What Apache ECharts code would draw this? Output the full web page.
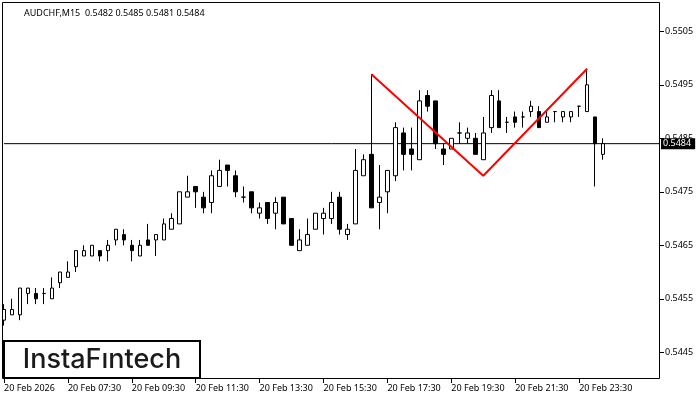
<!DOCTYPE html>
<html><head><meta charset="utf-8">
<script src="https://cdn.jsdelivr.net/npm/echarts@6/dist/echarts.min.js"></script>
<style>html,body{margin:0;padding:0;background:#fff}#c{width:700px;height:400px}</style>
</head><body><div id="c"></div>
<script>
const chartTitle = 'AUDCHF,M15  0.5482 0.5485 0.5481 0.5484';
const logoText = 'InstaF\u0131ntech';
const tickLabels = ['20 Feb 2026','20 Feb 07:30','20 Feb 09:30','20 Feb 11:30','20 Feb 13:30','20 Feb 15:30','20 Feb 17:30','20 Feb 19:30','20 Feb 21:30','20 Feb 23:30'];
const priceTicks = [0.5445,0.5455,0.5465,0.5475,0.5485,0.5495,0.5505];
const currentPrice = 0.5484;

const opens  = [0.5451,0.5452,0.5452,0.5456,0.5456,0.5456,0.5455,0.5458,0.5459,0.5461,0.5463,0.5463,0.5464,0.5464,0.5466,0.5467,0.5465,0.5463,0.5466,0.5466,0.5466,0.5468,0.5469,0.5474,0.5476,0.5474,0.5473,0.5476,0.5480,0.5478,0.5474,0.5475,0.5471,0.5473,0.5471,0.5474,0.5470,0.5464,0.5465,0.5468,0.5470,0.5470,0.5474,0.5467,0.5469,0.5478,0.5482,0.5473,0.5475,0.5478,0.5486,0.5483,0.5481,0.5493,0.5492,0.5483,0.5483,0.5486,0.5485,0.5485,0.5481,0.5487,0.5492,0.5488,0.5489,0.5489,0.5490,0.5490,0.5488,0.5490,0.5489,0.5489,0.5491,0.5490,0.5489,0.5482];
const closes = [0.5453,0.5453,0.5457,0.5457,0.5455,0.5456,0.5457,0.5460,0.5460,0.5464,0.5464,0.5465,0.5463,0.5465,0.5468,0.5466,0.5464,0.5465,0.5465,0.5467,0.5469,0.5470,0.5475,0.5475,0.5475,0.5472,0.5478,0.5479,0.5479,0.5475,0.5474,0.5472,0.5472,0.5470,0.5473,0.5469,0.5465,0.5466,0.5467,0.5471,0.5471,0.5473,0.5468,0.5468,0.5479,0.5481,0.5472,0.5474,0.5479,0.5487,0.5482,0.5482,0.5492,0.5491,0.5484,0.5482,0.5485,0.5486,0.5486,0.5482,0.5486,0.5493,0.5487,0.5488,0.5488,0.5489,0.5491,0.5487,0.5489,0.5490,0.5490,0.5490,0.5491,0.5495,0.5484,0.5484];
const lows   = [0.5450,0.5452,0.5451,0.5454,0.5454,0.5454,0.5455,0.5457,0.5459,0.5460,0.5463,0.5463,0.5462,0.5462,0.5465,0.5465,0.5462,0.5463,0.5465,0.5463,0.5466,0.5468,0.5469,0.5474,0.5472,0.5471,0.5471,0.5476,0.5476,0.5474,0.5473,0.5471,0.5470,0.5469,0.5468,0.5469,0.5465,0.5464,0.5465,0.5468,0.5467,0.5469,0.5467,0.5466,0.5469,0.5478,0.5472,0.5468,0.5471,0.5477,0.5479,0.5479,0.5481,0.5490,0.5483,0.5480,0.5483,0.5484,0.5484,0.5482,0.5481,0.5486,0.5487,0.5486,0.5487,0.5487,0.5489,0.5487,0.5488,0.5488,0.5488,0.5488,0.5489,0.5490,0.5476,0.5481];
const highs  = [0.5454,0.5455,0.5457,0.5457,0.5457,0.5457,0.5459,0.5460,0.5462,0.5464,0.5465,0.5465,0.5464,0.5466,0.5468,0.5468,0.5466,0.5466,0.5469,0.5467,0.5470,0.5471,0.5475,0.5478,0.5476,0.5475,0.5479,0.5481,0.5480,0.5479,0.5476,0.5475,0.5473,0.5473,0.5474,0.5474,0.5470,0.5468,0.5470,0.5471,0.5472,0.5475,0.5475,0.5469,0.5483,0.5482,0.5497,0.5480,0.5479,0.5488,0.5487,0.5487,0.5494,0.5494,0.5492,0.5484,0.5485,0.5488,0.5487,0.5486,0.5489,0.5494,0.5494,0.5489,0.5490,0.5490,0.5492,0.5491,0.5490,0.5490,0.5490,0.5490,0.5491,0.5498,0.5489,0.5485];

// pattern line: [bar index, price]
const patternIdx = [46, 60, 73];
const patternPrice = [0.5497, 0.5478, 0.5498];

// 15-minute slots starting 05:30 (76 bars + empty space on the right)
const categories = [];
for (let i = 0; i < 83; i++) {
  const m = 5 * 60 + 30 + 15 * i;
  const hh = Math.floor(m / 60) % 24, mm = m % 60;
  categories.push((m >= 1440 ? '21 Feb ' : '20 Feb ') + String(hh).padStart(2, '0') + ':' + String(mm).padStart(2, '0'));
}

const candleData = opens.map((o, i) => [o, closes[i], lows[i], highs[i]]);
const patternData = patternIdx.map((x, i) => [x, patternPrice[i]]);
const priceLineData = [[0, currentPrice], [categories.length - 1, currentPrice]];

const FONT = 'Noto Sans';
const chart = echarts.init(document.getElementById('c'), null, {renderer: 'canvas'});
const showTick = (idx) => idx % 8 === 0 && idx / 8 < tickLabels.length;

chart.setOption({
  animation: false,
  backgroundColor: '#fff',
  title: {
    text: chartTitle, left: 19, top: 4,
    textStyle: {fontFamily: FONT, fontSize: 9, fontWeight: 'normal', color: '#000'}
  },
  grid: {left: -1, top: 3, width: 664, bottom: 21, containLabel: false},
  xAxis: {
    type: 'category', data: categories, boundaryGap: true,
    axisLine: {show: false},
    axisTick: {show: true, alignWithLabel: true, interval: showTick, length: 4, lineStyle: {color: '#000'}},
    axisLabel: {
      interval: showTick, align: 'left', margin: 5,
      fontFamily: FONT, fontSize: 9, color: '#000',
      formatter: (v, idx) => tickLabels[idx / 8]
    },
    splitLine: {show: false}
  },
  yAxis: {
    type: 'value', position: 'right', offset: -3,
    min: 0.5440, max: 0.55103, scale: true,
    axisLine: {show: false},
    axisTick: {show: true, customValues: priceTicks, length: 4, lineStyle: {color: '#000'}},
    axisLabel: {customValues: priceTicks, margin: 5, fontFamily: FONT, fontSize: 9, color: '#000',
      formatter: v => v.toFixed(4)},
    splitLine: {show: false}
  },
  series: [
    {
      type: 'line', data: priceLineData, symbol: 'none', silent: true,
      lineStyle: {color: '#000', width: 1}, z: 2,
      endLabel: {show: true, distance: 2, formatter: () => currentPrice.toFixed(4),
        color: '#fff', backgroundColor: '#000', padding: [1, 4, 1, 2],
        fontFamily: FONT, fontSize: 9}
    },
    {
      type: 'candlestick', data: candleData, barWidth: 4,
      itemStyle: {color: '#fff', color0: '#000', borderColor: '#000', borderColor0: '#000', borderWidth: 1},
      z: 3
    },
    {
      type: 'line', data: patternData, symbol: 'none',
      lineStyle: {color: '#ff0000', width: 2}, z: 4
    }
  ],
  graphic: [
    {type: 'rect', shape: {x: 2.5, y: 2.5, width: 657, height: 376}, style: {fill: null, stroke: '#000', lineWidth: 1}, z: 10},
    {type: 'rect', shape: {x: 4, y: 341, width: 196, height: 37}, style: {fill: '#fff', stroke: '#000', lineWidth: 2}, z: 11},
    {type: 'text', x: 102, y: 360, style: {text: logoText, fill: '#1a1a1a', font: '500 27px Inter', textAlign: 'center', textVerticalAlign: 'middle'}, z: 12}
  ]
});
</script></body></html>
